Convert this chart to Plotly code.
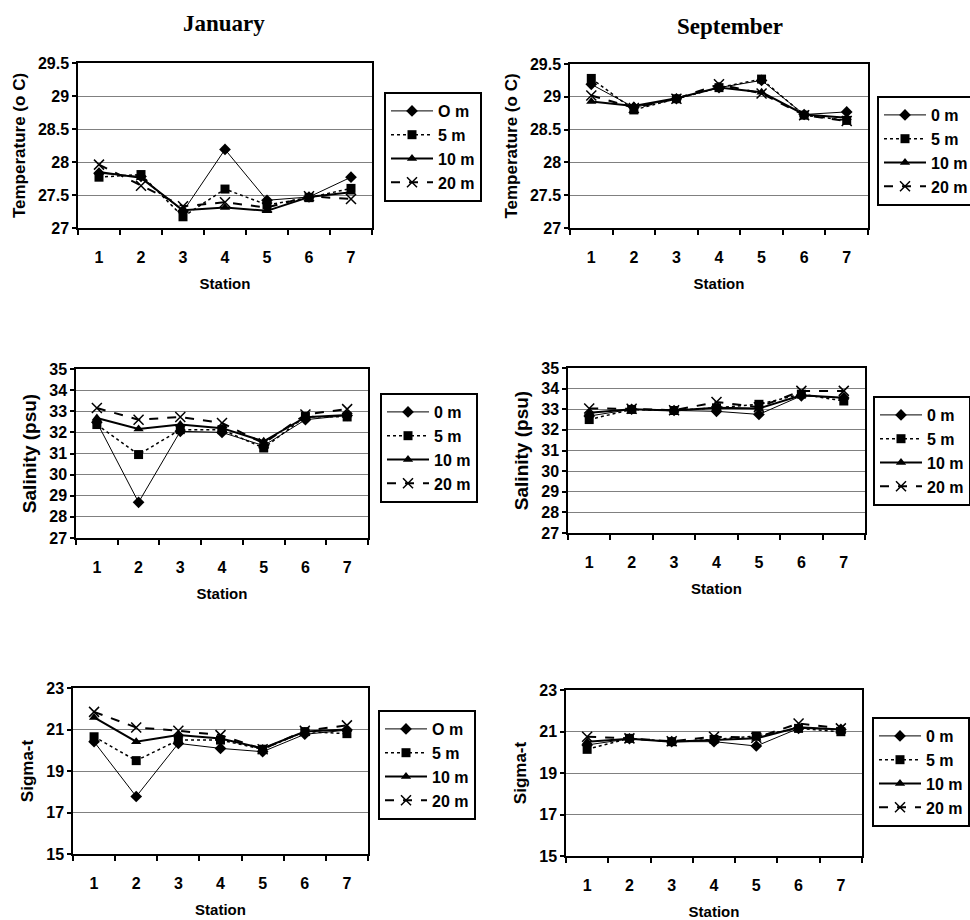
import plotly.graph_objects as go

stations = [1, 2, 3, 4, 5, 6, 7]
depth_labels = ["0 m", "5 m", "10 m", "20 m"]

# January temperature
jan_temp_0 = [27.83, 27.78, 27.25, 28.19, 27.42, 27.47, 27.77]
jan_temp_5 = [27.77, 27.81, 27.17, 27.59, 27.35, 27.46, 27.60]
jan_temp_10 = [27.85, 27.76, 27.27, 27.31, 27.26, 27.47, 27.54]
jan_temp_20 = [27.96, 27.64, 27.33, 27.39, 27.31, 27.48, 27.44]
# September temperature
sep_temp_0 = [29.19, 28.84, 28.97, 29.14, 29.25, 28.73, 28.77]
sep_temp_5 = [29.28, 28.80, 28.97, 29.14, 29.27, 28.72, 28.64]
sep_temp_10 = [28.93, 28.86, 28.98, 29.14, 29.07, 28.73, 28.68]
sep_temp_20 = [29.02, 28.83, 28.97, 29.19, 29.05, 28.72, 28.63]
# January salinity
jan_sal_0 = [32.48, 28.69, 32.05, 32.00, 31.37, 32.60, 32.80]
jan_sal_5 = [32.37, 30.95, 32.13, 32.13, 31.26, 32.75, 32.73]
jan_sal_10 = [32.68, 32.16, 32.37, 32.20, 31.58, 32.72, 32.82]
jan_sal_20 = [33.15, 32.60, 32.73, 32.44, 31.48, 32.85, 33.10]
# September salinity
sep_sal_0 = [32.67, 33.00, 32.94, 32.90, 32.75, 33.65, 33.55]
sep_sal_5 = [32.50, 32.99, 32.94, 33.07, 33.24, 33.73, 33.40]
sep_sal_10 = [32.83, 33.00, 32.94, 33.07, 33.04, 33.68, 33.56]
sep_sal_20 = [33.04, 33.02, 32.95, 33.35, 33.10, 33.89, 33.89]
# January sigma-t
jan_sig_0 = [20.41, 17.77, 20.33, 20.09, 19.93, 20.77, 20.97]
jan_sig_5 = [20.65, 19.50, 20.49, 20.49, 20.05, 20.90, 20.80]
jan_sig_10 = [21.58, 20.41, 20.73, 20.57, 20.09, 20.90, 21.00]
jan_sig_20 = [21.85, 21.10, 20.94, 20.73, 20.05, 20.94, 21.20]
# September sigma-t
sep_sig_0 = [20.35, 20.65, 20.51, 20.51, 20.30, 21.15, 21.10]
sep_sig_5 = [20.14, 20.67, 20.51, 20.62, 20.78, 21.15, 20.99]
sep_sig_10 = [20.51, 20.65, 20.51, 20.60, 20.67, 21.20, 21.10]
sep_sig_20 = [20.75, 20.67, 20.53, 20.75, 20.70, 21.39, 21.15]

temp_ticks = [27, 27.5, 28, 28.5, 29, 29.5]
temp_ticktext = ["27", "27.5", "28", "28.5", "29", "29.5"]
sal_ticks = [27, 28, 29, 30, 31, 32, 33, 34, 35]
sig_ticks = [15, 17, 19, 21, 23]

W, H = 970, 920
FONT = "Liberation Sans"

styles = [
    dict(line=dict(color="black", width=1, dash="solid"), marker=dict(symbol="diamond", size=9, color="black")),
    dict(line=dict(color="black", width=1.5, dash="dot"), marker=dict(symbol="square", size=9, color="black")),
    dict(line=dict(color="black", width=2, dash="solid"), marker=dict(symbol="triangle-up", size=9, color="black")),
    dict(line=dict(color="black", width=2, dash="dash"), marker=dict(symbol="x-thin", size=10, color="black",
                                                                      line=dict(color="black", width=1.5))),
]

panels = [
    dict(series=[jan_temp_0, jan_temp_5, jan_temp_10, jan_temp_20], names=["O m", "5 m", "10 m", "20 m"],
         dom=(78, 372, 63, 228), yr=[27, 29.5], yt=temp_ticks, ytt=temp_ticktext,
         ytitle="Temperature (o C)", ysize=17, leg=(384, 92)),
    dict(series=[sep_temp_0, sep_temp_5, sep_temp_10, sep_temp_20], names=depth_labels,
         dom=(570, 868, 64, 228), yr=[27, 29.5], yt=temp_ticks, ytt=temp_ticktext,
         ytitle="Temperature (o C)", ysize=17, leg=(877, 96)),
    dict(series=[jan_sal_0, jan_sal_5, jan_sal_10, jan_sal_20], names=depth_labels,
         dom=(76, 368, 369, 538), yr=[27, 35], yt=sal_ticks, ytt=[str(v) for v in sal_ticks],
         ytitle="Salinity (psu)", ysize=19, leg=(380, 393)),
    dict(series=[sep_sal_0, sep_sal_5, sep_sal_10, sep_sal_20], names=depth_labels,
         dom=(568, 865, 368, 533), yr=[27, 35], yt=sal_ticks, ytt=[str(v) for v in sal_ticks],
         ytitle="Salinity (psu)", ysize=19, leg=(873, 396)),
    dict(series=[jan_sig_0, jan_sig_5, jan_sig_10, jan_sig_20], names=["O m", "5 m", "10 m", "20 m"],
         dom=(73, 368, 688, 854), yr=[15, 23], yt=sig_ticks, ytt=[str(v) for v in sig_ticks],
         ytitle="Sigma-t", ysize=17, leg=(378, 710)),
    dict(series=[sep_sig_0, sep_sig_5, sep_sig_10, sep_sig_20], names=depth_labels,
         dom=(566, 862, 690, 856), yr=[15, 23], yt=sig_ticks, ytt=[str(v) for v in sig_ticks],
         ytitle="Sigma-t", ysize=17, leg=(872, 717)),
]

fig = go.Figure()
layout = dict(
    width=W, height=H, margin=dict(l=0, r=0, t=0, b=0, autoexpand=False),
    paper_bgcolor="white", plot_bgcolor="white", showlegend=True,
    font=dict(family=FONT, color="black"),
)

for i, p in enumerate(panels):
    n = i + 1
    xa = "x" if n == 1 else f"x{n}"
    ya = "y" if n == 1 else f"y{n}"
    lg = "legend" if n == 1 else f"legend{n}"
    for j, (vals, name) in enumerate(zip(p["series"], p["names"])):
        st = styles[j]
        fig.add_trace(go.Scatter(
            x=stations, y=vals, mode="lines+markers", name=name,
            line=st["line"], marker=st["marker"],
            xaxis=xa, yaxis=ya, legend=lg, legendgroup=f"{n}-{j}",
        ))
    x0, x1, y0, y1 = p["dom"]
    xkey = "xaxis" if n == 1 else f"xaxis{n}"
    ykey = "yaxis" if n == 1 else f"yaxis{n}"
    layout[xkey] = dict(
        domain=[x0 / W, x1 / W], anchor=ya, range=[0.5, 7.5], automargin=False,
        tickvals=stations, ticktext=[str(s) for s in stations], ticks="",
        ticklabelstandoff=14,
        minor=dict(tick0=0.5, dtick=1, ticks="outside", ticklen=5, tickcolor="black", tickwidth=1.5, showgrid=False),
        showgrid=False, zeroline=False, showline=True, linecolor="black", linewidth=1.5, mirror=True,
        tickfont=dict(family=FONT, size=16, color="black", weight="bold"),
        title=dict(text="<b>Station</b>", font=dict(family=FONT, size=15, color="black"), standoff=14),
    )
    layout[ykey] = dict(
        domain=[1 - y1 / H, 1 - y0 / H], anchor=xa, range=p["yr"], automargin=False,
        tickvals=p["yt"], ticktext=p["ytt"], ticks="outside", ticklen=4, tickcolor="black", tickwidth=1.5,
        showgrid=True, gridcolor="#808080", gridwidth=1, zeroline=False,
        showline=True, linecolor="black", linewidth=1.5, mirror=True,
        tickfont=dict(family=FONT, size=16, color="black", weight="bold"),
        title=dict(text=f"<b>{p['ytitle']}</b>", font=dict(family=FONT, size=p["ysize"], color="black"), standoff=8),
    )
    lx, ly = p["leg"]
    layout[lg] = dict(
        x=lx / W, y=1 - ly / H, xanchor="left", yanchor="top", xref="paper", yref="paper",
        bordercolor="black", borderwidth=2, bgcolor="white",
        font=dict(family=FONT, size=16, color="black", weight="bold"),
        tracegroupgap=0, traceorder="grouped", itemwidth=42,
    )

layout["annotations"] = [
    dict(text="<b>January</b>", x=224 / W, y=1 - 23 / H, xref="paper", yref="paper", showarrow=False,
         xanchor="center", yanchor="middle", font=dict(family="Liberation Serif", size=23, color="black")),
    dict(text="<b>September</b>", x=730 / W, y=1 - 27 / H, xref="paper", yref="paper", showarrow=False,
         xanchor="center", yanchor="middle", font=dict(family="Liberation Serif", size=23, color="black")),
]

fig.update_layout(**layout)
fig.write_html("out.html", config={"displayModeBar": False},
               post_script="document.body.style.margin='0px';document.body.style.overflow='hidden';")
